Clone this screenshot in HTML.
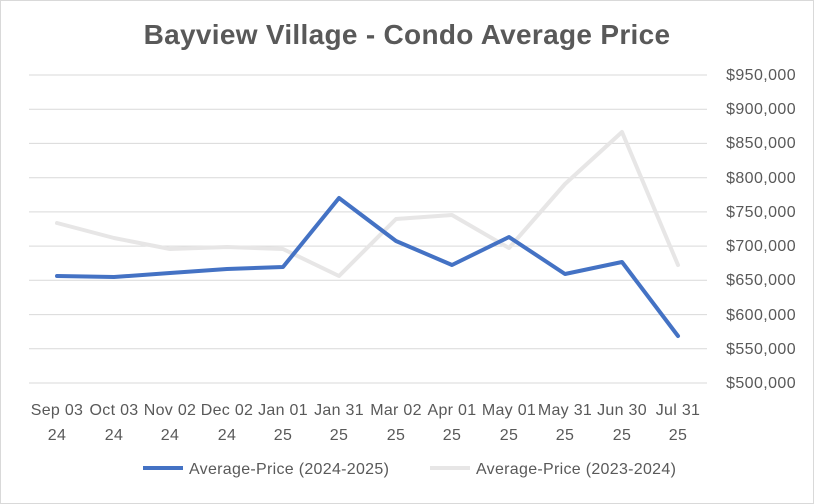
<!DOCTYPE html>
<html><head><meta charset="utf-8"><style>
body{margin:0;background:#fff}
svg{display:block;font-family:"Liberation Sans",sans-serif}
</style></head><body>
<svg width="814" height="504" xmlns="http://www.w3.org/2000/svg">
<rect x="0.5" y="0.5" width="813" height="503" fill="#fff" stroke="#d9d9d9"/>
<text x="407" y="44" text-anchor="middle" font-size="28" font-weight="bold" fill="#595959" letter-spacing="0.3">Bayview Village - Condo Average Price</text>
<g stroke="#d9d9d9" stroke-width="1">
<line x1="29" x2="707" y1="75" y2="75"/><line x1="29" x2="707" y1="109.2" y2="109.2"/>
<line x1="29" x2="707" y1="143.4" y2="143.4"/><line x1="29" x2="707" y1="177.7" y2="177.7"/>
<line x1="29" x2="707" y1="211.9" y2="211.9"/><line x1="29" x2="707" y1="246.1" y2="246.1"/>
<line x1="29" x2="707" y1="280.3" y2="280.3"/><line x1="29" x2="707" y1="314.6" y2="314.6"/>
<line x1="29" x2="707" y1="348.8" y2="348.8"/><line x1="29" x2="707" y1="383" y2="383"/>
</g>
<g font-size="16" fill="#595959" text-anchor="end" letter-spacing="0.4">
<text x="796" y="80">$950,000</text><text x="796" y="114">$900,000</text>
<text x="796" y="148">$850,000</text><text x="796" y="183">$800,000</text>
<text x="796" y="217">$750,000</text><text x="796" y="251">$700,000</text>
<text x="796" y="285">$650,000</text><text x="796" y="320">$600,000</text>
<text x="796" y="354">$550,000</text><text x="796" y="388">$500,000</text>
</g>
<g font-size="16" fill="#595959" text-anchor="middle" letter-spacing="0.3">
<text x="57" y="415">Sep 03</text><text x="57" y="440">24</text>
<text x="114" y="415">Oct 03</text><text x="114" y="440">24</text>
<text x="170" y="415">Nov 02</text><text x="170" y="440">24</text>
<text x="227" y="415">Dec 02</text><text x="227" y="440">24</text>
<text x="283" y="415">Jan 01</text><text x="283" y="440">25</text>
<text x="339" y="415">Jan 31</text><text x="339" y="440">25</text>
<text x="396" y="415">Mar 02</text><text x="396" y="440">25</text>
<text x="452" y="415">Apr 01</text><text x="452" y="440">25</text>
<text x="509" y="415">May 01</text><text x="509" y="440">25</text>
<text x="565" y="415">May 31</text><text x="565" y="440">25</text>
<text x="622" y="415">Jun 30</text><text x="622" y="440">25</text>
<text x="678" y="415">Jul 31</text><text x="678" y="440">25</text>
</g>
<polyline fill="none" stroke="#e7e6e6" stroke-width="4" stroke-linejoin="round" stroke-linecap="round"
points="57,223 114,238 170,249 227,247 283,249 339,276 396,219 452,215 509,248 565,184 622,132 678,265"/>
<polyline fill="none" stroke="#4472c4" stroke-width="4" stroke-linejoin="round" stroke-linecap="round"
points="57,276 114,277 170,273 227,269 283,267 339,198 396,241 452,265 509,237 565,274 622,262 678,336"/>
<line x1="143" x2="183" y1="468" y2="468" stroke="#4472c4" stroke-width="4"/>
<text x="189" y="474" font-size="16" fill="#595959" letter-spacing="0.3">Average-Price (2024-2025)</text>
<line x1="430" x2="470" y1="468" y2="468" stroke="#e7e6e6" stroke-width="4"/>
<text x="476" y="474" font-size="16" fill="#595959" letter-spacing="0.3">Average-Price (2023-2024)</text>
</svg>
</body></html>
